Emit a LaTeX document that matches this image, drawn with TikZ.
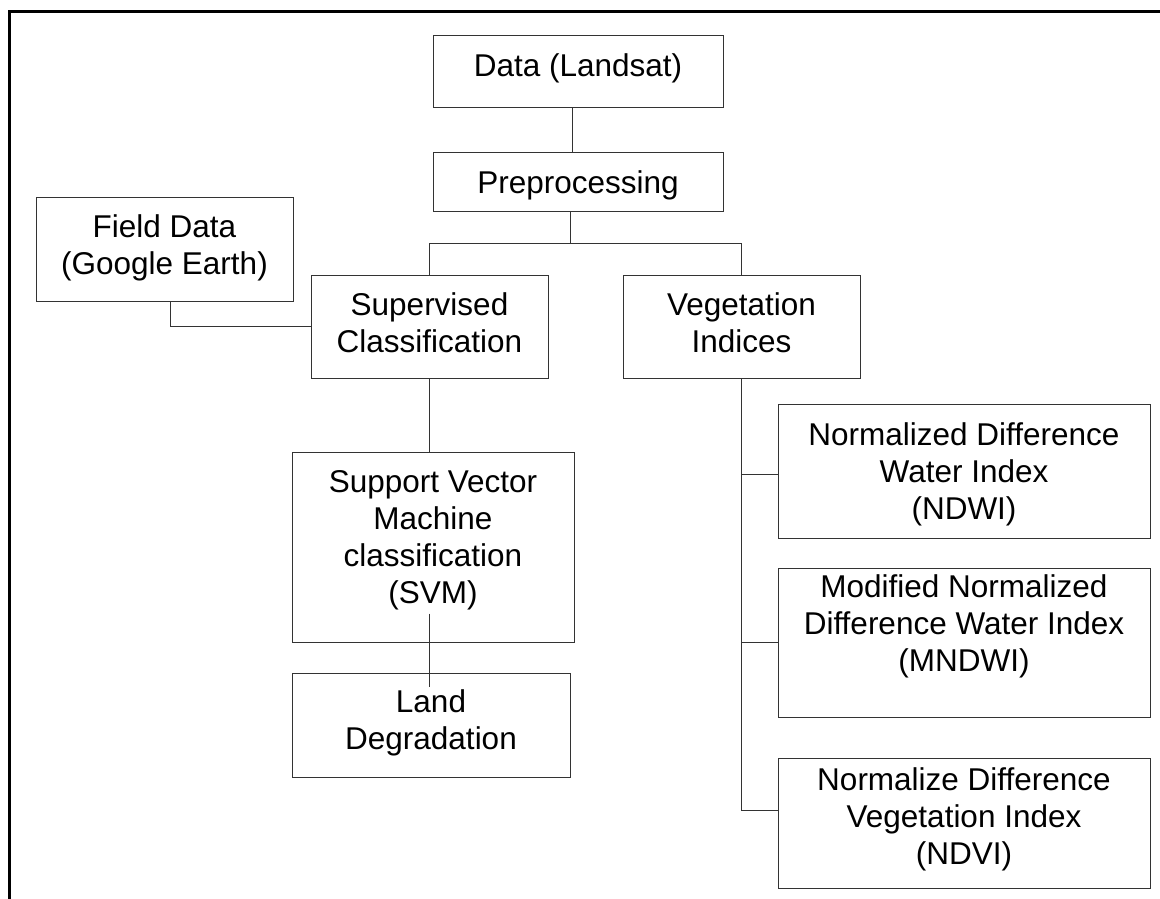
\documentclass[tikz,border=0pt]{standalone}
\usepackage{fontspec}
\setmainfont{Liberation Sans}
\begin{document}
\begin{tikzpicture}[x=1pt,y=-1pt,
  box/.style={draw=black!80, line width=1pt, inner sep=0pt, rectangle},
  txt/.style={inner sep=0pt, anchor=base, font=\fontsize{31.5}{37}\selectfont},
  link/.style={draw=black!80, line width=1pt}]
\useasboundingbox (0,0) rectangle (1160,898);
\clip (0,0) rectangle (1160,898);
\draw[line width=2.6pt] (9.7,910) -- (9.7,11.3) -- (1175,11.3);
% boxes
\node[box, minimum width=290, minimum height=72] (data) at (578,71) {};
\node[box, minimum width=290, minimum height=59] (prep) at (578,181.5) {};
\node[box, minimum width=257, minimum height=104] (field) at (164.5,249) {};
\node[box, minimum width=237, minimum height=103] (sup) at (429.5,326.5) {};
\node[box, minimum width=237, minimum height=103] (veg) at (741.5,326.5) {};
\node[box, minimum width=282, minimum height=190] (svm) at (433,547) {};
\node[box, minimum width=278, minimum height=104] (land) at (431,725) {};
\node[box, minimum width=372, minimum height=134] (ndwi) at (964,471) {};
\node[box, minimum width=372, minimum height=149] (mndwi) at (964,642.5) {};
\node[box, minimum width=372, minimum height=130] (ndvi) at (964,823) {};
% texts
\newcommand{\ml}[1]{\begin{tabular}[t]{@{}c@{}}#1\end{tabular}}
\renewcommand{\arraystretch}{1}
\node[txt] (datat) at (578,76) {Data (Landsat)};
\node[txt] (prept) at (578,193) {Preprocessing};
\node[txt] (fieldt) at (164.5,237) {\ml{Field Data\\(Google Earth)}};
\node[txt] (supt) at (429.5,315) {\ml{Supervised\\Classification}};
\node[txt] (vegt) at (741.5,315) {\ml{Vegetation\\Indices}};
\node[txt] (svmt) at (433,492) {\ml{Support Vector\\Machine\\classification\\(SVM)}};
\node[txt] (landt) at (431,712) {\ml{Land\\Degradation}};
\node[txt] (ndwit) at (964,445) {\ml{Normalized Difference\\Water Index\\(NDWI)}};
\node[txt] (mndwit) at (964,597) {\ml{Modified Normalized\\Difference Water Index\\(MNDWI)}};
\node[txt] (ndvit) at (964,790) {\ml{Normalize Difference\\Vegetation Index\\(NDVI)}};
% connectors
\coordinate (fork) at (570,243);
\draw[link] ([xshift=-6]data.south) -- ([xshift=-6]prep.north);
\draw[link] ([xshift=-8]prep.south) -- (fork);
\draw[link] (sup.north) -- (sup.north |- fork) -- (veg.north |- fork) -- (veg.north);
\draw[link] ([xshift=5.5]field.south) |- (sup.west);
\draw[link] (sup.south) -- (sup.south |- svm.north);
\draw[link] ([xshift=-4,yshift=29]svm.south) -- ([xshift=-2,yshift=-14]land.north);
\draw[link] (veg.south) |- ([yshift=13]ndvi.west);
\draw[link] ([yshift=-3]ndwi.west) -- ([yshift=-3]ndwi.west -| veg.south);
\draw[link] (mndwi.west) -- (mndwi.west -| veg.south);
\end{tikzpicture}
\end{document}
